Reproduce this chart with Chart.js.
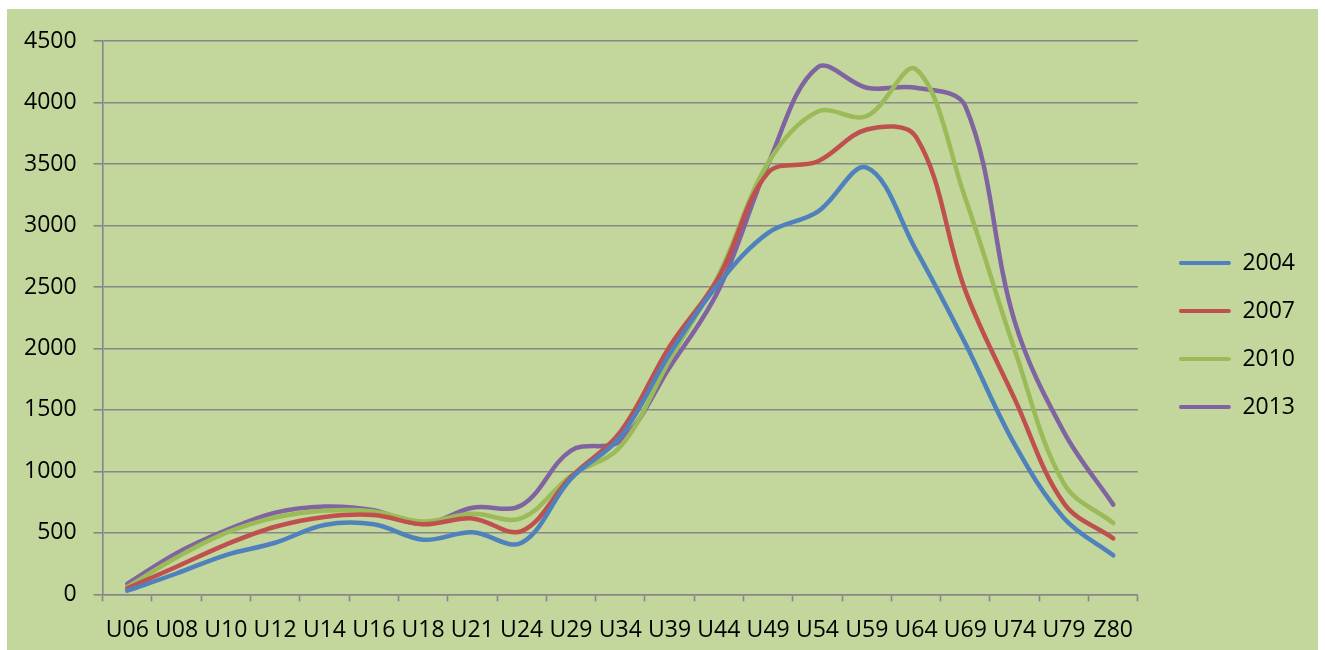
<!DOCTYPE html>
<html>
<head>
<meta charset="utf-8">
<script src="https://cdn.jsdelivr.net/npm/chart.js@4.4.1/dist/chart.umd.min.js"></script>
<style>
  html, body { margin: 0; padding: 0; background: #ffffff; overflow: hidden; }
  #wrap { position: absolute; left: 7px; top: 9px; width: 1311px; height: 641px; background: #C3D69B; overflow: hidden; }
  canvas { display: block; }
</style>
</head>
<body>
<div id="wrap"><canvas id="c" width="1311" height="650"></canvas></div>
<script>
// ---- data ----
const categories = ['U06','U08','U10','U12','U14','U16','U18','U21','U24','U29','U34',
                    'U39','U44','U49','U54','U59','U64','U69','U74','U79','Z80'];
const seriesNames = ['2004', '2007', '2010', '2013'];
const values2004 = [30, 170, 320, 420, 565, 570, 445, 505, 420, 940, 1280, 1955, 2530, 2940, 3110, 3470, 2800, 2040, 1220, 620, 318];
const values2007 = [50, 225, 405, 550, 630, 645, 570, 618, 515, 955, 1320, 2015, 2580, 3430, 3520, 3780, 3720, 2470, 1590, 740, 455];
const values2010 = [60, 300, 500, 625, 680, 675, 592, 655, 620, 965, 1200, 1905, 2600, 3510, 3925, 3890, 4270, 3220, 1990, 900, 580];
const values2013 = [85, 335, 520, 665, 715, 685, 572, 705, 725, 1170, 1250, 1845, 2480, 3500, 4285, 4120, 4120, 3970, 2220, 1320, 730];
const yTicks = [0, 500, 1000, 1500, 2000, 2500, 3000, 3500, 4000, 4500];

const allValues = [values2004, values2007, values2010, values2013];
const palette = ['#4F81BD', '#C0504D', '#9BBB59', '#8064A2'];
const FONT = '"Open Sans", "Liberation Sans", "DejaVu Sans", sans-serif';
const GRID = '#878787';

const datasets = seriesNames.map((name, i) => ({
  label: name,
  data: allValues[i],
  borderColor: palette[i],
  backgroundColor: palette[i],
  borderWidth: 4.5,
  pointRadius: 0,
  pointHoverRadius: 0,
  tension: 0.36,
  borderCapStyle: 'round',
  borderJoinStyle: 'round',
  fill: false
}));

// nudges the legend block to where the reference has it
const legendShift = {
  id: 'legendShift',
  afterLayout(chart) {
    const l = chart.legend;
    if (!l) return;
    l.left += 16; l.right += 16;
    l.top -= 15; l.bottom -= 15;
  }
};

function build() {
  new Chart(document.getElementById('c'), {
    type: 'line',
    data: { labels: categories, datasets },
    plugins: [legendShift],
    options: {
      responsive: false,
      animation: false,
      devicePixelRatio: 1,
      layout: { padding: { left: 0, top: 32, right: 29, bottom: 0 } },
      plugins: {
        tooltip: { enabled: false },
        legend: {
          position: 'right',
          align: 'center',
          labels: {
            color: '#000',
            font: { family: FONT, size: 23 },
            boxWidth: 52,
            boxHeight: 4,
            padding: 25,
            generateLabels(chart) {
              const items = Chart.defaults.plugins.legend.labels.generateLabels(chart);
              items.forEach(it => {
                it.fillStyle = it.strokeStyle;
                it.lineWidth = 0;
                it.borderRadius = 2;
              });
              return items;
            }
          }
        }
      },
      scales: {
        x: {
          type: 'category',
          offset: true,
          grid: {
            offset: true,
            drawOnChartArea: false,
            drawTicks: true,
            tickLength: 7,
            tickColor: GRID,
            tickWidth: 1.6
          },
          border: { display: true, color: GRID, width: 1.6 },
          ticks: {
            color: '#000',
            font: { family: FONT, size: 23 },
            padding: 15,
            maxRotation: 0,
            minRotation: 0,
            autoSkip: false
          }
        },
        y: {
          min: 0,
          max: 4500,
          afterBuildTicks(scale) { scale.ticks = yTicks.map(v => ({ value: v })); },
          grid: {
            color: GRID,
            lineWidth: 1.6,
            drawTicks: true,
            tickLength: 9,
            tickColor: GRID
          },
          border: { display: true, color: GRID, width: 1.6 },
          ticks: {
            color: '#000',
            font: { family: FONT, size: 23 },
            padding: 17,
            callback: (v) => String(v)
          }
        }
      }
    }
  });
}

if (document.fonts && document.fonts.load) {
  document.fonts.load('23px "Open Sans"').then(build, build);
} else {
  build();
}
</script>
</body>
</html>
